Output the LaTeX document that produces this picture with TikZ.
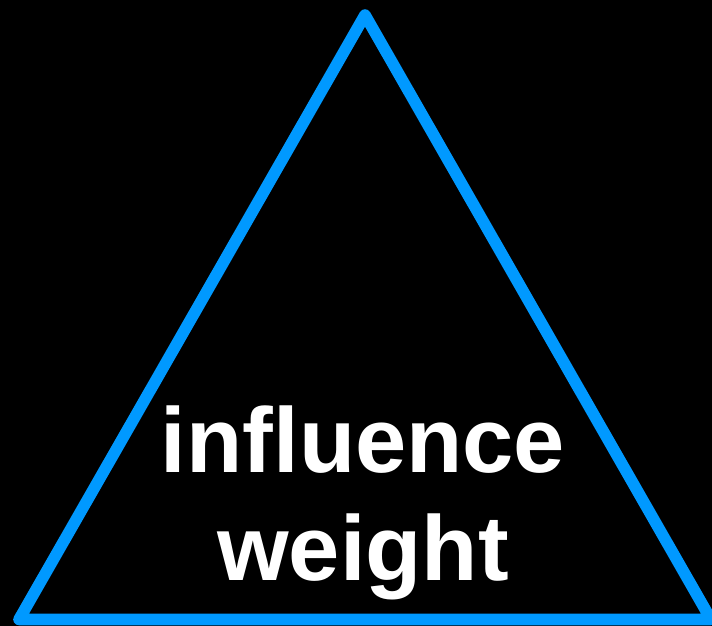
\documentclass[tikz,border=0pt]{standalone}
\usepackage{fontspec}
\setmainfont{Liberation Sans}
\definecolor{triblue}{RGB}{0,153,255}
\tikzset{
  edge/.style={draw=triblue,line width=3.3pt,line join=round,line cap=round},
  word/.style={text=white,font=\fontsize{26.2}{30.7}\selectfont\bfseries,anchor=base,inner sep=0pt}
}
\begin{document}
\begin{tikzpicture}
    \fill[black] (0,0) rectangle (7.12,6.26);
    \useasboundingbox (0,0) rectangle (7.12,6.26);
    \coordinate (top) at (3.65,6.11);
    \coordinate (left) at (0.19,0.065);
    \coordinate (right) at (7.11,0.065);
    \draw[edge] (top)--(left)--(right)--cycle;
    \node[word] (infl) at (3.63,1.53) {influence};
    \node[word] (wght) at (3.63,0.45) {weight};
    \end{tikzpicture}
\end{document}
